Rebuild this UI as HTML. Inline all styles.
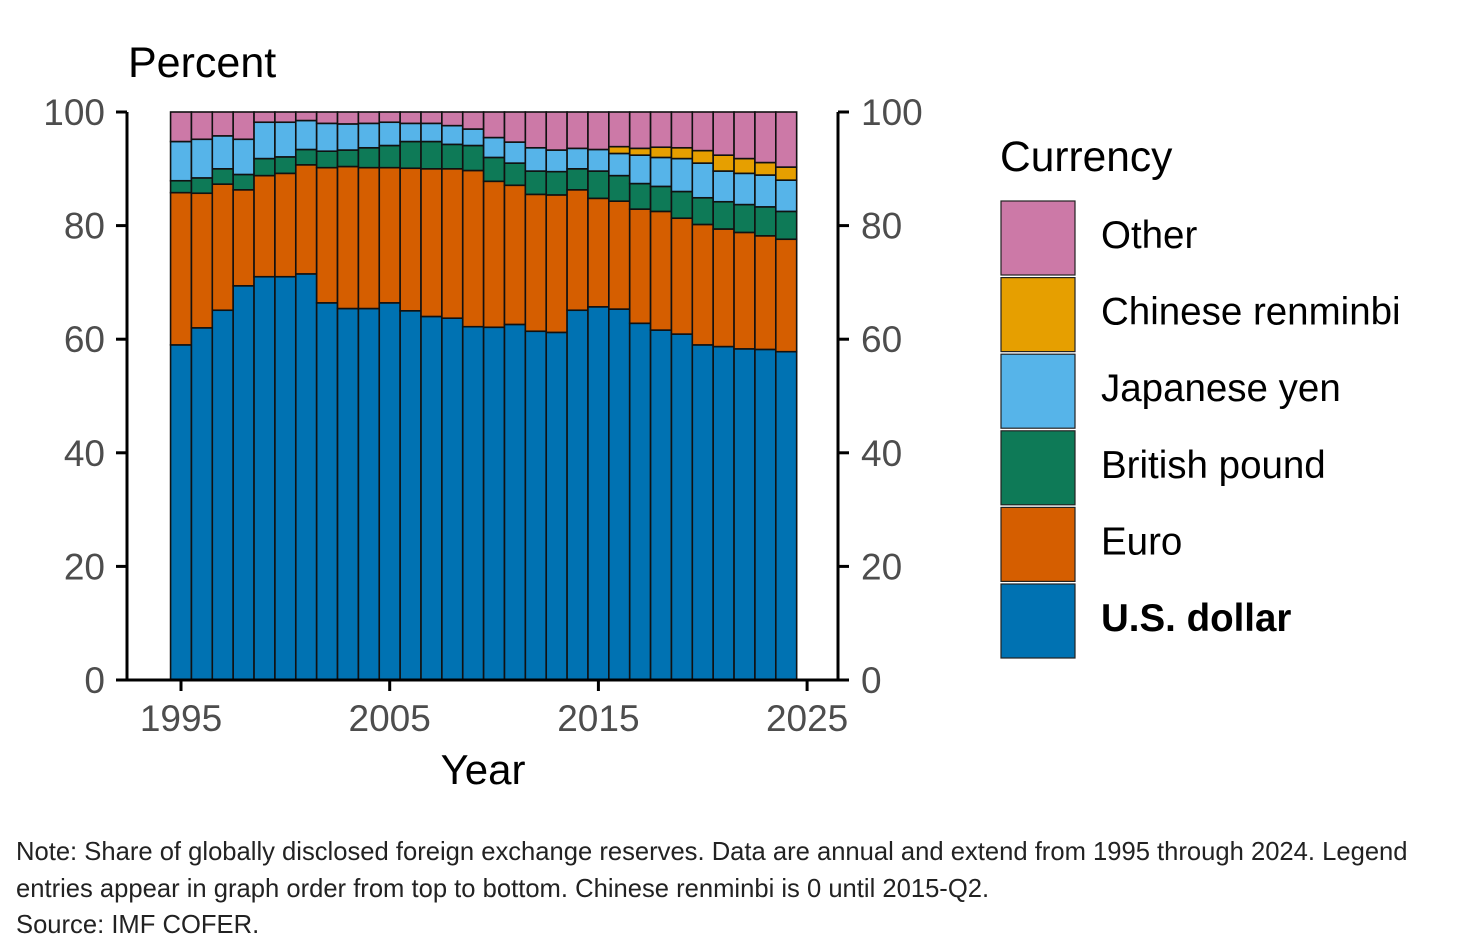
<!DOCTYPE html>
<html><head><meta charset="utf-8"><style>
body{margin:0;background:#fff;width:1459px;height:946px;overflow:hidden;font-family:"Liberation Sans",sans-serif}
.note{position:absolute;left:16px;font-size:25.6px;color:#222;white-space:nowrap}
</style></head><body>
<svg id="chart" width="1459" height="946" style="position:absolute;left:0;top:0" font-family="Liberation Sans, sans-serif">
<text x="128" y="77" font-size="43" fill="#000">Percent</text>
<text x="483" y="784" font-size="42" fill="#000" text-anchor="middle">Year</text>
<g id="bars"></g>
<g id="axes"></g>
<g id="legend">
<text x="1000" y="171" font-size="42.5" fill="#000">Currency</text>
</g>
</svg>
<div class="note" style="top:838px">Note: Share of globally disclosed foreign exchange reserves. Data are annual and extend from 1995 through 2024. Legend</div>
<div class="note" style="top:875px">entries appear in graph order from top to bottom. Chinese renminbi is 0 until 2015-Q2.</div>
<div class="note" style="top:911px">Source: IMF COFER.</div>
<script>
const years=[1995,1996,1997,1998,1999,2000,2001,2002,2003,2004,2005,2006,2007,2008,2009,2010,2011,2012,2013,2014,2015,2016,2017,2018,2019,2020,2021,2022,2023,2024];
const usd=[59.0,62.0,65.1,69.4,71.0,71.0,71.5,66.4,65.4,65.4,66.4,65.0,64.0,63.7,62.2,62.1,62.6,61.4,61.2,65.1,65.7,65.3,62.8,61.6,60.9,59.0,58.7,58.3,58.2,57.8];
const euro=[26.8,23.7,22.2,16.9,17.8,18.2,19.2,23.8,25.0,24.8,23.8,25.1,26.0,26.3,27.5,25.7,24.5,24.1,24.2,21.2,19.1,19.0,20.1,20.9,20.4,21.2,20.7,20.5,20.0,19.8];
const gbp=[2.1,2.7,2.7,2.7,3.0,2.9,2.7,2.9,2.9,3.5,3.9,4.7,4.8,4.3,4.4,4.2,3.9,4.1,4.1,3.7,4.8,4.5,4.5,4.4,4.7,4.7,4.8,4.9,5.1,4.9];
const jpy=[6.9,6.8,5.8,6.2,6.4,6.1,5.1,4.9,4.6,4.3,4.1,3.2,3.2,3.3,2.9,3.5,3.7,4.1,3.8,3.6,3.8,3.9,5.0,5.1,5.8,6.1,5.4,5.5,5.6,5.5];
const cny=[0,0,0,0,0,0,0,0,0,0,0,0,0,0,0,0,0,0,0,0,0,1.2,1.2,1.8,1.9,2.2,2.8,2.6,2.2,2.3];
const yTicks=[0,20,40,60,80,100];
const xTicks=[1995,2005,2015,2025];
const NS="http://www.w3.org/2000/svg";
const xS=y=>181+(y-1995)*20.87;
const yS=v=>680-v*5.68;
const bw=20.87;
const cols={usd:"#0072B2",euro:"#D55E00",gbp:"#0E7A57",jpy:"#56B4E9",cny:"#E69F00",other:"#CC79A7"};
function mk(tag,attrs,parent){const e=document.createElementNS(NS,tag);for(const k in attrs)e.setAttribute(k,attrs[k]);parent.appendChild(e);return e;}
const bars=document.getElementById('bars');
years.forEach((yr,i)=>{
  const other=100-usd[i]-euro[i]-gbp[i]-jpy[i]-cny[i];
  const segs=[["usd",usd[i]],["euro",euro[i]],["gbp",gbp[i]],["jpy",jpy[i]],["cny",cny[i]],["other",other]];
  let c=0;
  segs.forEach(([k,v])=>{
    if(v<=0)return;
    const r=mk('rect',{x:xS(yr)-bw/2,y:yS(c+v),width:bw,height:v*5.68,fill:cols[k],stroke:"#111","stroke-width":1.6},bars);
    
    
    c+=v;
  });
});
const ax=document.getElementById('axes');
const al={stroke:"#000","stroke-width":3};
mk('line',Object.assign({x1:127,y1:yS(100),x2:127,y2:yS(0)},al),ax);
mk('line',Object.assign({x1:838,y1:yS(100),x2:838,y2:yS(0)},al),ax);
mk('line',Object.assign({x1:127,y1:680,x2:838,y2:680},al),ax);
yTicks.forEach(v=>{
  mk('line',Object.assign({x1:116,y1:yS(v),x2:127,y2:yS(v)},al),ax);
  mk('line',Object.assign({x1:838,y1:yS(v),x2:849,y2:yS(v)},al),ax);
  const t=mk('text',{x:105,y:yS(v)+13,"font-size":37,fill:"#4d4d4d","text-anchor":"end"},ax);t.textContent=v;
  
  const t2=mk('text',{x:861,y:yS(v)+13,"font-size":37,fill:"#4d4d4d"},ax);t2.textContent=v;
  
});
xTicks.forEach(v=>{
  mk('line',Object.assign({x1:xS(v),y1:680,x2:xS(v),y2:691},al),ax);
  const t=mk('text',{x:xS(v),y:731,"font-size":37,fill:"#4d4d4d","text-anchor":"middle"},ax);t.textContent=v;
  
});
const lg=document.getElementById('legend');
const items=[["other","Other"],["cny","Chinese renminbi"],["jpy","Japanese yen"],["gbp","British pound"],["euro","Euro"],["usd","U.S. dollar"]];
items.forEach(([k,l],i)=>{
  const y0=201+i*76.6;
  const r=mk('rect',{x:1001,y:y0,width:74,height:74,fill:cols[k],stroke:"#222","stroke-width":1.2},lg);
  
  const t=mk('text',{x:1101,y:y0+47,"font-size":38.5,fill:"#000"},lg);t.textContent=l;
  if(k==="usd")t.setAttribute('font-weight','bold');
  
});
</script>
</body></html>
